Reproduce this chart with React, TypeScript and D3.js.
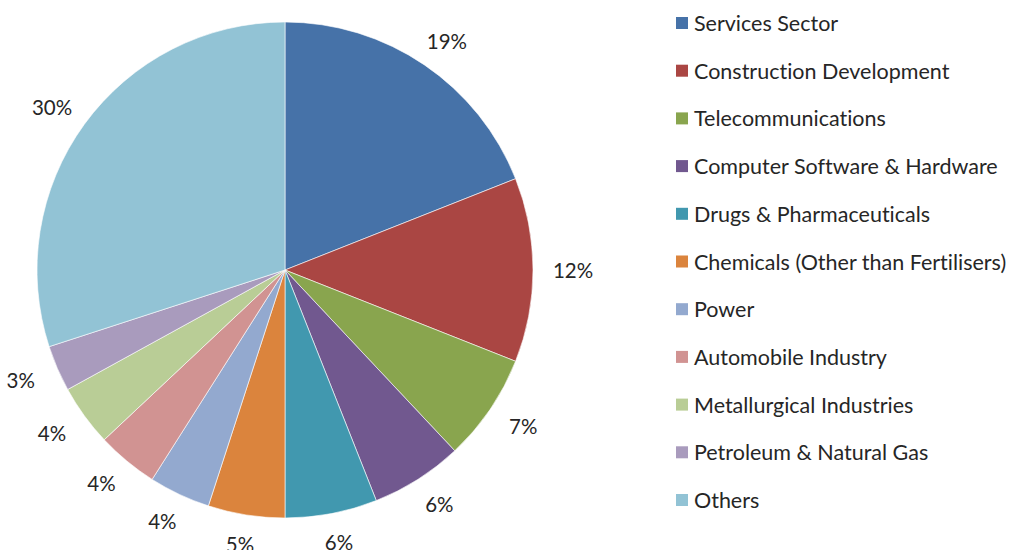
import * as d3 from "d3";

const sectors = [
  "Services Sector",
  "Construction Development",
  "Telecommunications",
  "Computer Software & Hardware",
  "Drugs & Pharmaceuticals",
  "Chemicals (Other than Fertilisers)",
  "Power",
  "Automobile Industry",
  "Metallurgical Industries",
  "Petroleum & Natural Gas",
  "Others",
];
const shares = [19, 12, 7, 6, 6, 5, 4, 4, 4, 3, 30];
const colors = [
  "#4672A8", "#AA4643", "#89A54E", "#71588F", "#4198AF", "#DB843D",
  "#93A9CF", "#D19392", "#B9CD96", "#A99BBD", "#92C3D5",
];

const W = 1011, H = 550;
const CX = 285, CY = 270, R = 248;
// labels sit outside the rim, a bit farther out sideways than up/down
const LABEL_RX = 288, LABEL_RY = 277;
const FONT = "Lato, 'Open Sans', sans-serif";

export default function App() {
  const pie = d3.pie<number>().sort(null).value((d) => d)(shares);
  const arc = d3.arc<d3.PieArcDatum<number>>().innerRadius(0).outerRadius(R);
  const legendY = d3.scaleLinear([0, sectors.length - 1], [23, 500]);

  return (
    <svg width={W} height={H}
      style={{ position: "fixed", left: 0, top: 0, background: "#fff", fontVariantLigatures: "none" }}>
      <g transform={`translate(${CX},${CY})`}>
        {pie.map((p, i) => (
          <path key={i} d={arc(p) ?? ""} fill={colors[i]} stroke="#fff" strokeWidth={0.6} />
        ))}
        {pie.map((p, i) => {
          const a = (p.startAngle + p.endAngle) / 2;
          const x = LABEL_RX * Math.sin(a);
          const y = -LABEL_RY * Math.cos(a);
          return (
            <text key={i} x={x} y={y} textAnchor="middle" dominantBaseline="central"
              fontFamily={FONT} fontSize={20.5} fill="#262626">
              {shares[i]}%
            </text>
          );
        })}
      </g>
      {sectors.map((s, i) => (
        <g key={s} transform={`translate(676,${legendY(i)})`}>
          <rect x={0} y={-6} width={12} height={12} fill={colors[i]} />
          <text x={18} y={0} dominantBaseline="central" fontFamily={FONT} fontSize={21.5} fill="#262626">
            {s}
          </text>
        </g>
      ))}
    </svg>
  );
}
